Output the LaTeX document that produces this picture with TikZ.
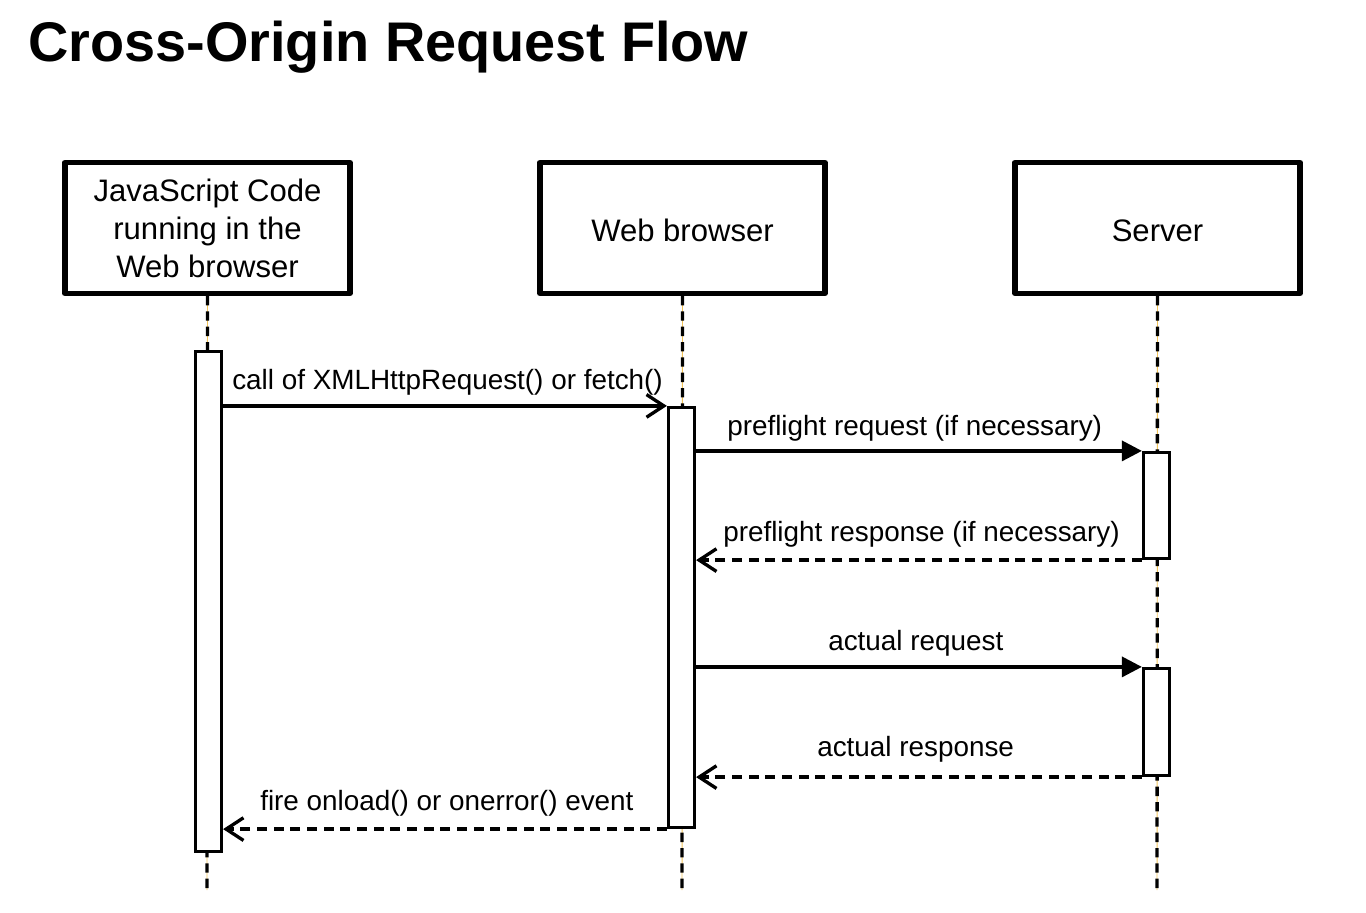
\documentclass[tikz,border=0pt]{standalone}
\usepackage{fontspec}
\setmainfont{Liberation Sans}
\usetikzlibrary{arrows.meta}
\definecolor{lifeglow}{HTML}{F2C45A}
\tikzset{
  actor/.style={draw=black, line width=4.1pt, line join=round, minimum width=214pt, minimum height=98pt, inner sep=0pt, align=center, font=\fontsize{23.3}{28.5}\selectfont},
  actbar/.style={draw=black, fill=white, line width=2.4pt, minimum width=19.5pt, inner sep=0pt},
  lifeline/.style={line width=2.5pt, dash pattern=on 7pt off 4.5pt},
  glow/.style={draw=lifeglow, line width=0.7pt},
  msg/.style={line width=2.5pt, -{Triangle[length=15pt,width=15pt]}},
  ret/.style={line width=2.5pt, dash pattern=on 7.5pt off 5pt, -{Straight Barb[length=13pt,width=17pt]}},
  call/.style={line width=2.5pt, -{Straight Barb[length=13pt,width=17pt]}},
  lbl/.style={anchor=base west, inner sep=0pt, font=\fontsize{20.9}{25}\selectfont},
}
\begin{document}
\begin{tikzpicture}[x=0.75pt, y=-0.75pt]
\useasboundingbox (0,0) rectangle (1366,913);
\node[anchor=base west, inner sep=0pt, font=\fontsize{41.9}{48}\selectfont\bfseries] (title) at (28,62) {Cross-Origin Request Flow};

\node[actor] (js) at (207.5,228) {JavaScript Code\\running in the\\Web browser};
\node[actor, text height=20pt] (br) at (682.5,228) {Web browser};
\node[actor, text height=20pt] (sv) at (1157.5,228) {Server};

\coordinate (jsend) at (207,890);
\coordinate (brend) at (682,890);
\coordinate (svend) at (1157,890);

\foreach \a/\b in {js/jsend, br/brend, sv/svend}{
  \draw[glow] (\a.south) -- (\b);
  \draw[lifeline] (\a.south) -- (\b);
}

\node[actbar, minimum height=375pt] (ajs) at (208.5,601.5) {};
\node[actbar, minimum height=315pt] (abr) at (681.5,617.5) {};
\node[actbar, minimum height=79.5pt] (asv1) at (1156.5,505.5) {};
\node[actbar, minimum height=80.25pt] (asv2) at (1156.5,722) {};

\draw[call] (ajs.east |- abr.north) -- (abr.north west);
\node[lbl] (l1) at (232,389) {call of XMLHttpRequest() or fetch()};

\draw[msg] (abr.east |- asv1.north) -- (asv1.north west);
\node[lbl] (l2) at (727,435) {preflight request (if necessary)};

\draw[ret] (asv1.south west) -- (abr.east |- asv1.south);
\node[lbl] (l3) at (723,541) {preflight response (if necessary)};

\draw[msg] (abr.east |- asv2.north) -- (asv2.north west);
\node[lbl] (l4) at (828,650) {actual request};

\draw[ret] (asv2.south west) -- (abr.east |- asv2.south);
\node[lbl] (l5) at (817,756) {actual response};

\draw[ret] (abr.south west) -- (ajs.east |- abr.south);
\node[lbl] (l6) at (260,810) {fire onload() or onerror() event};
\end{tikzpicture}
\end{document}
